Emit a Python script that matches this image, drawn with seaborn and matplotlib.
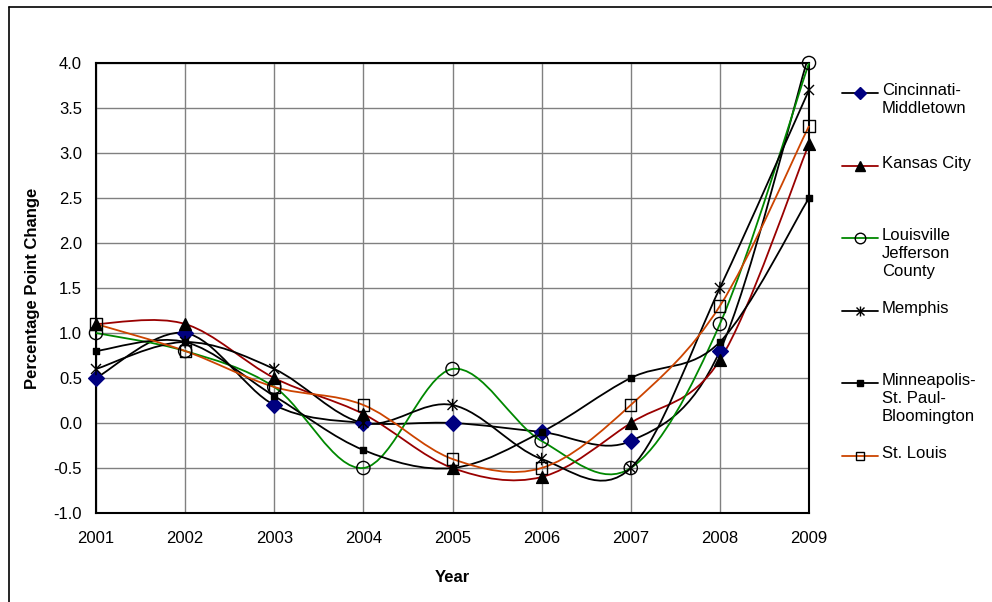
import numpy as np
import pandas as pd
import matplotlib
matplotlib.use("Agg")
import matplotlib.pyplot as plt
from matplotlib.path import Path
from matplotlib.patches import PathPatch
from matplotlib.lines import Line2D
from matplotlib.transforms import Bbox, TransformedBbox
import seaborn as sns

years = [2001, 2002, 2003, 2004, 2005, 2006, 2007, 2008, 2009]
cincinnati = [0.5, 1.0, 0.2, 0.0, 0.0, -0.1, -0.2, 0.8, 4.1]
kansas_city = [1.1, 1.1, 0.5, 0.1, -0.5, -0.6, 0.0, 0.7, 3.1]
louisville = [1.0, 0.8, 0.4, -0.5, 0.6, -0.2, -0.5, 1.1, 4.0]
memphis = [0.6, 0.9, 0.6, 0.0, 0.2, -0.4, -0.5, 1.5, 3.7]
minneapolis = [0.8, 0.9, 0.3, -0.3, -0.5, -0.1, 0.5, 0.9, 2.5]
st_louis = [1.1, 0.8, 0.4, 0.2, -0.4, -0.5, 0.2, 1.3, 3.3]

labels = ["Cincinnati-\nMiddletown", "Kansas City", "Louisville\nJefferson\nCounty",
          "Memphis", "Minneapolis-\nSt. Paul-\nBloomington", "St. Louis"]
series = [cincinnati, kansas_city, louisville, memphis, minneapolis, st_louis]
y_ticks = [-1.0, -0.5, 0.0, 0.5, 1.0, 1.5, 2.0, 2.5, 3.0, 3.5, 4.0]

# asterisk marker (X plus vertical bar)
star = Path([(-1, -1), (1, 1), (-1, 1), (1, -1), (0, -1.25), (0, 1.25)],
            [Path.MOVETO, Path.LINETO] * 3)

styles = [
    dict(line="#000000", marker="D", face="#000080", edge="#000080", ms=8, mew=1),
    dict(line="#990000", marker="^", face="#000000", edge="#000000", ms=8.5, mew=1),
    dict(line="#008800", marker="o", face="none", edge="#000000", ms=9.5, mew=1),
    dict(line="#000000", marker=star, face="none", edge="#000000", ms=9, mew=1),
    dict(line="#000000", marker="s", face="#000000", edge="#000000", ms=5, mew=1),
    dict(line="#CC4400", marker="s", face="none", edge="#000000", ms=8, mew=1),
]

sns.set_theme(style="whitegrid")
plt.rcParams["font.family"] = ["Liberation Sans", "DejaVu Sans"]

fig = plt.figure(figsize=(9.92, 6.02), dpi=100)
ax = fig.add_axes([96 / 992, 1 - 513 / 602, (809 - 96) / 992, (513 - 63) / 602])
ax.set_facecolor("white")

# clip region: plot area widened left/right/bottom, top edge kept (values above 4.0 hidden)
clip_box = TransformedBbox(Bbox([[-0.05, -0.05], [1.05, 1.0]]), ax.transAxes)
clip_box_m = TransformedBbox(Bbox([[-0.05, -0.05], [1.05, 1.02]]), ax.transAxes)


def smooth_path(xs, ys):
    xs = np.asarray(xs, float)
    ys = np.asarray(ys, float)
    pts = np.column_stack([xs, ys])
    n = len(pts)
    verts = [pts[0]]
    codes = [Path.MOVETO]
    for i in range(n - 1):
        p0 = pts[i - 1] if i > 0 else pts[i]
        p1 = pts[i]
        p2 = pts[i + 1]
        p3 = pts[i + 2] if i + 2 < n else pts[i + 1]
        c1 = p1 + (p2 - p0) / 6.0
        c2 = p2 - (p3 - p1) / 6.0
        verts += [c1, c2, p2]
        codes += [Path.CURVE4] * 3
    return Path(np.array(verts), codes)


for vals, st in zip(series, styles):
    patch = PathPatch(smooth_path(years, vals), facecolor="none",
                      edgecolor=st["line"], lw=1.3, zorder=3)
    ax.add_patch(patch)
    patch.set_clip_box(clip_box)

for vals, st in zip(series, styles):
    df = pd.DataFrame({"Year": years, "Value": vals})
    sns.scatterplot(data=df, x="Year", y="Value", ax=ax, marker=st["marker"],
                    s=st["ms"] ** 2, facecolor=st["face"], edgecolor=st["edge"],
                    linewidth=st["mew"], zorder=4, legend=False)
    coll = ax.collections[-1]
    coll.set_clip_path(None)
    coll.set_clip_box(clip_box_m if st["marker"] == "o" else clip_box)

ax.set_xlim(2001, 2009)
ax.set_ylim(-1.0, 4.0)
ax.set_xticks(years)
ax.set_xticklabels([str(y) for y in years])
ax.set_yticks(y_ticks)
ax.set_yticklabels([f"{v:.1f}" for v in y_ticks])
ax.grid(True, color="#808080", lw=1.0)
for sp in ax.spines.values():
    sp.set_visible(True)
    sp.set_color("black")
    sp.set_linewidth(1.5)
    sp.set_zorder(2.5)
ax.tick_params(axis="both", which="major", direction="out", length=5, width=1.2,
               color="black", labelsize=12, labelcolor="black")
ax.tick_params(axis="x", pad=8)
ax.tick_params(axis="y", pad=5)
ax.set_xlabel("Year", fontsize=12, fontweight="bold", labelpad=17, color="black")
ax.set_ylabel("Percentage Point Change", fontsize=12, fontweight="bold",
              labelpad=10, color="black")

# manual legend
W, H = 992.0, 602.0
y0, dy = 93.0, 72.6
for i, (lab, st) in enumerate(zip(labels, styles)):
    yc = 1 - (y0 + i * dy) / H
    fig.add_artist(Line2D([842 / W, 878 / W], [yc, yc], color=st["line"], lw=1.3,
                          transform=fig.transFigure))
    fig.add_artist(Line2D([860 / W], [yc], marker=st["marker"], markersize=st["ms"] * 0.8,
                          markerfacecolor=st["face"], markeredgecolor=st["edge"],
                          markeredgewidth=st["mew"], linestyle="none",
                          transform=fig.transFigure))
    fig.text(882 / W, yc + 10 / H, lab, fontsize=12, va="top", ha="left",
             color="black", linespacing=1.25)

# outer frame (left and top edges visible)
fig.add_artist(Line2D([9 / W, 9 / W], [0, 1 - 7 / H], color="black", lw=1.2,
                      transform=fig.transFigure))
fig.add_artist(Line2D([9 / W, 1], [1 - 7 / H, 1 - 7 / H], color="black", lw=1.2,
                      transform=fig.transFigure))

fig.savefig("out.png", dpi=100, facecolor="white")
